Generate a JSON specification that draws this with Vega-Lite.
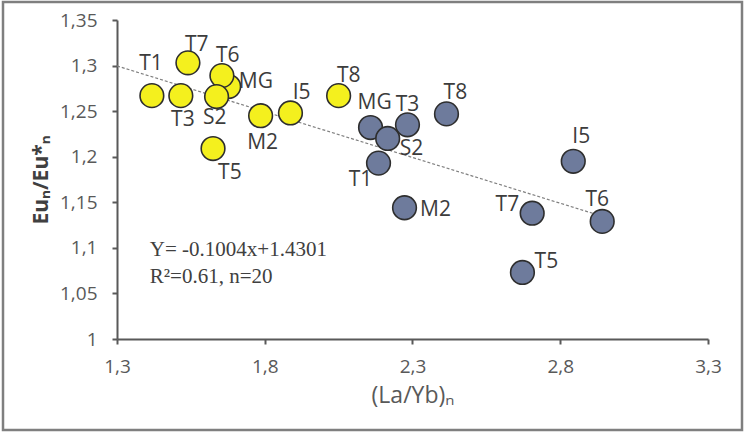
{
  "$schema": "https://vega.github.io/schema/vega-lite/v6.json",
  "autosize": "none",
  "width": 739,
  "height": 428,
  "padding": {"left": 3, "top": 2, "right": 4, "bottom": 3},
  "background": "white",
  "config": {
    "view": {"stroke": "#7f7f7f", "strokeWidth": 2.5},
    "font": "Open Sans"
  },
  "datasets": {
    "samples": [
      {"id": "T1", "group": "A", "la_yb": 1.418, "eu": 1.267},
      {"id": "T3", "group": "A", "la_yb": 1.516, "eu": 1.267},
      {"id": "T7", "group": "A", "la_yb": 1.540, "eu": 1.303},
      {"id": "MG", "group": "A", "la_yb": 1.678, "eu": 1.277},
      {"id": "T6", "group": "A", "la_yb": 1.655, "eu": 1.289},
      {"id": "S2", "group": "A", "la_yb": 1.637, "eu": 1.266},
      {"id": "T5", "group": "A", "la_yb": 1.625, "eu": 1.209},
      {"id": "M2", "group": "A", "la_yb": 1.786, "eu": 1.245},
      {"id": "I5", "group": "A", "la_yb": 1.887, "eu": 1.248},
      {"id": "T8", "group": "A", "la_yb": 2.050, "eu": 1.267},
      {"id": "MG", "group": "B", "la_yb": 2.158, "eu": 1.232},
      {"id": "T3", "group": "B", "la_yb": 2.283, "eu": 1.235},
      {"id": "S2", "group": "B", "la_yb": 2.216, "eu": 1.220},
      {"id": "T1", "group": "B", "la_yb": 2.185, "eu": 1.193},
      {"id": "T8", "group": "B", "la_yb": 2.415, "eu": 1.247},
      {"id": "M2", "group": "B", "la_yb": 2.273, "eu": 1.144},
      {"id": "I5", "group": "B", "la_yb": 2.844, "eu": 1.195},
      {"id": "T7", "group": "B", "la_yb": 2.705, "eu": 1.138},
      {"id": "T6", "group": "B", "la_yb": 2.942, "eu": 1.129},
      {"id": "T5", "group": "B", "la_yb": 2.672, "eu": 1.073}
    ],
    "labels": [
      {"id": "T1", "lx": 1.415, "ly": 1.302},
      {"id": "T7", "lx": 1.570, "ly": 1.323},
      {"id": "T6", "lx": 1.675, "ly": 1.310},
      {"id": "MG", "lx": 1.770, "ly": 1.282},
      {"id": "T3", "lx": 1.523, "ly": 1.240},
      {"id": "S2", "lx": 1.631, "ly": 1.242},
      {"id": "T5", "lx": 1.682, "ly": 1.182},
      {"id": "M2", "lx": 1.793, "ly": 1.215},
      {"id": "I5", "lx": 1.925, "ly": 1.270},
      {"id": "T8", "lx": 2.084, "ly": 1.289},
      {"id": "MG", "lx": 2.172, "ly": 1.259},
      {"id": "T3", "lx": 2.283, "ly": 1.257},
      {"id": "T8", "lx": 2.445, "ly": 1.270},
      {"id": "S2", "lx": 2.297, "ly": 1.208},
      {"id": "T1", "lx": 2.124, "ly": 1.175},
      {"id": "M2", "lx": 2.378, "ly": 1.141},
      {"id": "I5", "lx": 2.871, "ly": 1.222},
      {"id": "T7", "lx": 2.621, "ly": 1.147},
      {"id": "T6", "lx": 2.925, "ly": 1.153},
      {"id": "T5", "lx": 2.753, "ly": 1.085}
    ],
    "trend": [
      {"la_yb": 1.30, "eu": 1.2996},
      {"la_yb": 2.91, "eu": 1.1379}
    ],
    "notes": [
      {"text": "Y= -0.1004x+1.4301", "nx": 1.411, "ny": 1.098},
      {"text": "R²=0.61, n=20", "nx": 1.411, "ny": 1.068}
    ]
  },
  "layer": [
    {
      "data": {"name": "trend"},
      "mark": {"type": "line", "color": "#808080", "strokeWidth": 1.2, "strokeDash": [3, 2]},
      "encoding": {
        "x": {
          "field": "la_yb", "type": "quantitative",
          "scale": {"domain": [1.3, 3.3], "range": [114, 705], "nice": false, "zero": false},
          "axis": {
            "title": "(La/Yb)ₙ",
            "offset": -91,
            "values": [1.3, 1.8, 2.3, 2.8, 3.3],
            "labelExpr": "replace('' + datum.value, '.', ',')",
            "labelFlush": false,
            "labelOverlap": false,
            "grid": false,
            "domainColor": "#595959", "domainWidth": 2,
            "tickColor": "#595959", "tickWidth": 2, "tickSize": 5,
            "labelColor": "#595959", "labelFontSize": 19, "labelPadding": 13,
            "labelFont": "Open Sans",
            "titleColor": "#595959", "titleFontSize": 23, "titleFontWeight": "normal",
            "titleFont": "Open Sans", "titlePadding": 8
          }
        },
        "y": {
          "field": "eu", "type": "quantitative",
          "scale": {"domain": [1, 1.35], "range": [337, 18], "nice": false, "zero": false},
          "axis": {
            "title": "Euₙ/Eu*ₙ",
            "offset": -114,
            "values": [1, 1.05, 1.1, 1.15, 1.2, 1.25, 1.3, 1.35],
            "labelExpr": "replace('' + datum.value, '.', ',')",
            "labelFlush": false,
            "labelOverlap": false,
            "grid": false,
            "domainColor": "#595959", "domainWidth": 2,
            "tickColor": "#595959", "tickWidth": 2, "tickSize": 5,
            "labelColor": "#595959", "labelFontSize": 19, "labelPadding": 15,
            "labelFont": "Open Sans",
            "titleColor": "#404040", "titleFontSize": 21, "titleFontWeight": "bold",
            "titleFont": "Open Sans", "titlePadding": 8
          }
        }
      }
    },
    {
      "data": {"name": "samples"},
      "mark": {"type": "circle", "size": 560, "opacity": 1, "stroke": "#2e2e2e", "strokeWidth": 1.6},
      "encoding": {
        "x": {"field": "la_yb", "type": "quantitative"},
        "y": {"field": "eu", "type": "quantitative"},
        "fill": {
          "field": "group", "type": "nominal",
          "scale": {"domain": ["A", "B"], "range": ["#f4f01e", "#6e7b9c"]},
          "legend": null
        }
      }
    },
    {
      "data": {"name": "labels"},
      "mark": {"type": "text", "font": "Open Sans", "fontSize": 21, "color": "#3c3c3c", "align": "center", "baseline": "middle"},
      "encoding": {
        "x": {"field": "lx", "type": "quantitative"},
        "y": {"field": "ly", "type": "quantitative"},
        "text": {"field": "id"}
      }
    },
    {
      "data": {"name": "notes"},
      "mark": {"type": "text", "font": "Liberation Serif", "fontSize": 21, "color": "#404040", "align": "left", "baseline": "middle"},
      "encoding": {
        "x": {"field": "nx", "type": "quantitative"},
        "y": {"field": "ny", "type": "quantitative"},
        "text": {"field": "text"}
      }
    }
  ]
}
